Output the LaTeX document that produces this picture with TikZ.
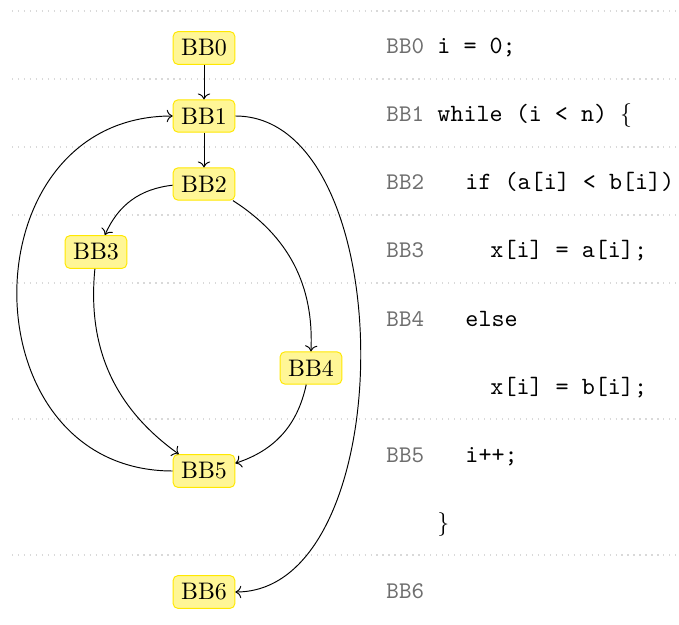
\documentclass[tikz,border=0pt]{standalone}
\usetikzlibrary{arrows.meta}
\definecolor{bbfill}{RGB}{255,246,150}
\definecolor{bbdraw}{RGB}{255,232,0}
\definecolor{lblgray}{RGB}{110,110,110}
\begin{document}
\begin{tikzpicture}[x=0.4184pt,y=-0.4184pt,
  bbnode/.style={draw=bbdraw,fill=bbfill,rounded corners=2pt,inner sep=0.333em},
  edge/.style={->,line width=0.4pt},
  sep/.style={gray!30,dotted,line width=0.5pt},
  lbl/.style={anchor=base west,inner sep=0pt,text=lblgray,font=\ttfamily},
  codeline/.style={anchor=base west,inner sep=0pt,font=\fontsize{10.4}{12}\selectfont\ttfamily}]
\useasboundingbox (0,0) rectangle (679,625);

% row separators
\foreach \k in {0,1,2,3,4,6,8}
  \draw[sep] (12,{11+68*\k}) -- (679,{11+68*\k});

% basic blocks of the control flow graph
\node[bbnode] (BB0) at (204,48)  {BB0};
\node[bbnode] (BB1) at (204,116) {BB1};
\node[bbnode] (BB2) at (204,184) {BB2};
\node[bbnode] (BB3) at (96,252)  {BB3};
\node[bbnode] (BB4) at (311,368) {BB4};
\node[bbnode] (BB5) at (204,471) {BB5};
\node[bbnode] (BB6) at (204,592) {BB6};

% control flow edges
\draw[edge] (BB0) -- (BB1);
\draw[edge] (BB1) -- (BB2);
\draw[edge] (BB2) to[bend right] (BB3);
\draw[edge] (BB2) to[bend left] (BB4);
\draw[edge] (BB3) to[bend right] (BB5);
\draw[edge] (BB4) to[bend left] (BB5);
\draw[edge] (BB5) to[out=180,in=180,looseness=1.5] (BB1);
\draw[edge] (BB1) to[out=0,in=0,looseness=0.9] (BB6);

% block labels
\node[lbl] (l0) at (386,54)  {BB0};
\node[lbl] (l1) at (386,122) {BB1};
\node[lbl] (l2) at (386,190) {BB2};
\node[lbl] (l3) at (386,258) {BB3};
\node[lbl] (l4) at (386,326) {BB4};
\node[lbl] (l5) at (386,462) {BB5};
\node[lbl] (l6) at (386,598) {BB6};

% source code
\node[codeline] (c0) at (437,54)  {i = 0;};
\node[codeline] (c1) at (437,122) {while (i < n) \rmfamily$\{$};
\node[codeline] (c2) at (465,190) {if (a[i] < b[i])};
\node[codeline] (c3) at (490,258) {x[i] = a[i];};
\node[codeline] (c4) at (465,326) {else};
\node[codeline] (c5) at (490,394) {x[i] = b[i];};
\node[codeline] (c6) at (465,462) {i++;};
\node[codeline] (c7) at (437,530) {\rmfamily$\}$};
\end{tikzpicture}
\end{document}
